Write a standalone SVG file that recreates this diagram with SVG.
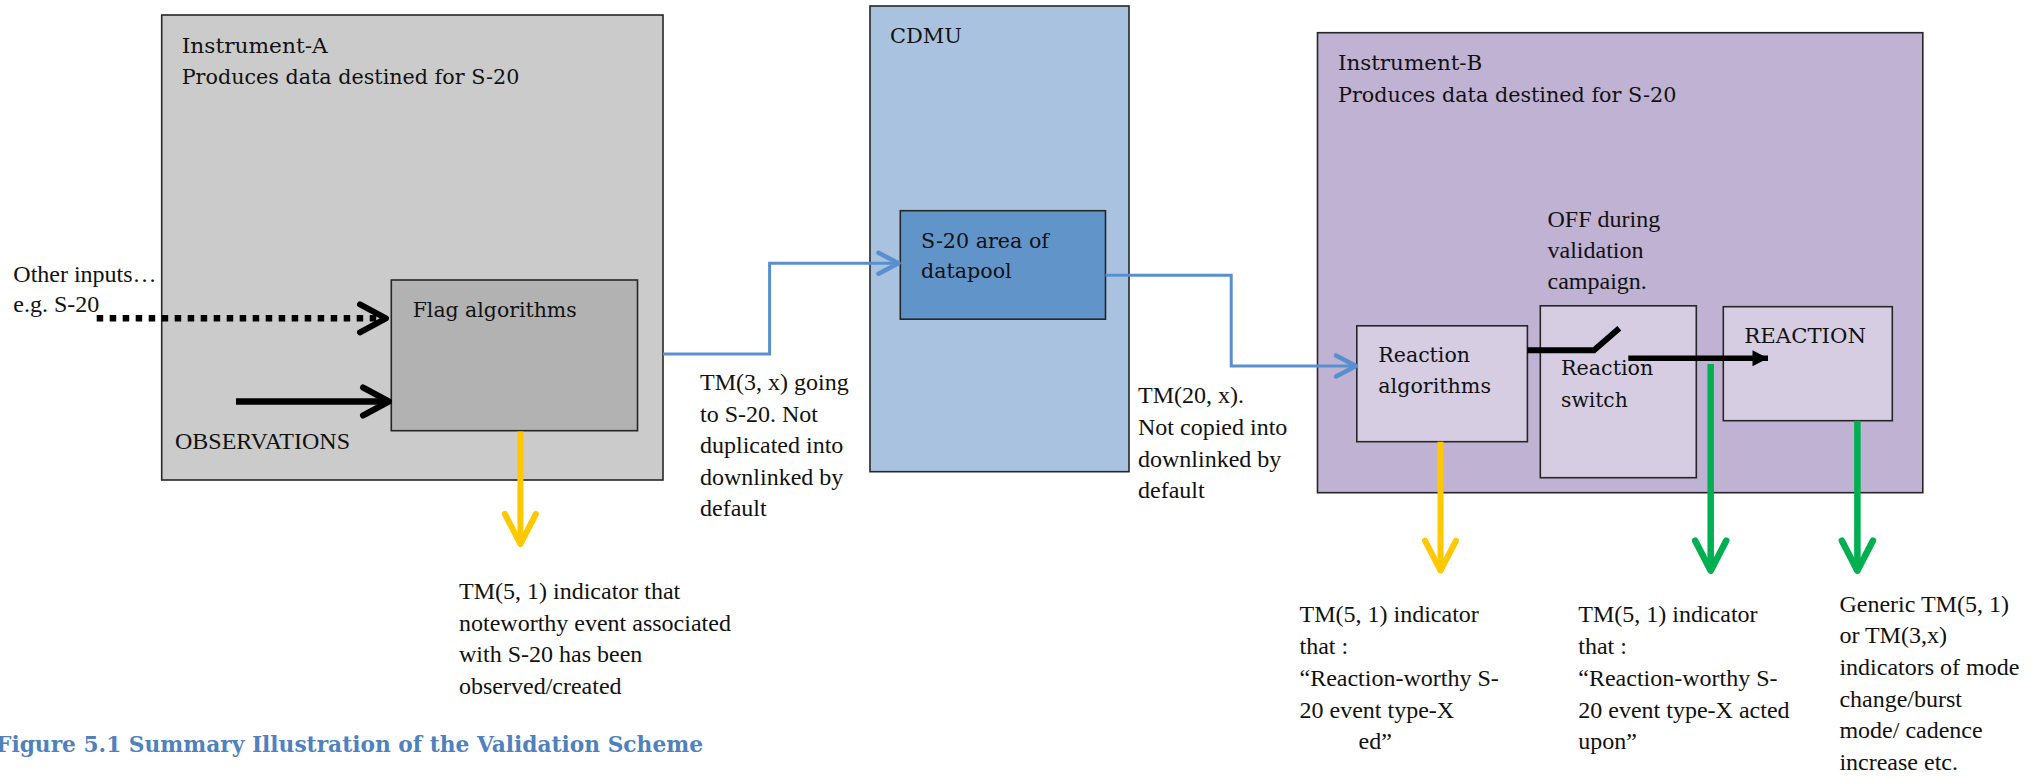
<svg xmlns="http://www.w3.org/2000/svg" width="2042" height="777" viewBox="0 0 2042 777">
<style>
.box{stroke:#262626;stroke-width:1.6}
.g{font-family:"DejaVu Serif","Liberation Serif",serif;font-size:21px;fill:#111}
.t{font-family:"Liberation Serif","Times New Roman",serif;font-size:24px;fill:#111}
.cap{font-family:"DejaVu Serif","Liberation Serif",serif;font-size:22px;font-weight:bold;fill:#4f81bd}
.blue{fill:none;stroke:#5a8fcf;stroke-width:3}
.blk{fill:none;stroke:#000;stroke-width:6.5}
.yel{fill:none;stroke:#ffc800;stroke-width:6}
.grn{fill:none;stroke:#00b050;stroke-width:6.5}
</style>
<defs>
<marker id="chevK" markerUnits="userSpaceOnUse" viewBox="-32 -20 36 40" markerWidth="36" markerHeight="40" refX="0" refY="0" orient="auto" overflow="visible">
<path d="M-26,-14 L0,0 L-26,14" fill="none" stroke="#000" stroke-width="6" stroke-linecap="round" stroke-linejoin="round"/>
</marker>
<marker id="chevB" markerUnits="userSpaceOnUse" viewBox="-26 -14 30 28" markerWidth="30" markerHeight="28" refX="0" refY="0" orient="auto" overflow="visible">
<path d="M-20,-10.5 L0,0 L-20,10.5" fill="none" stroke="#5a8fcf" stroke-width="4.5" stroke-linecap="round" stroke-linejoin="round"/>
</marker>
<marker id="chevY" markerUnits="userSpaceOnUse" viewBox="-36 -20 40 40" markerWidth="40" markerHeight="40" refX="0" refY="0" orient="auto" overflow="visible">
<path d="M-30,-15.5 L0,0 L-30,15.5" fill="none" stroke="#ffc800" stroke-width="6" stroke-linecap="round" stroke-linejoin="round"/>
</marker>
<marker id="chevG" markerUnits="userSpaceOnUse" viewBox="-36 -20 40 40" markerWidth="40" markerHeight="40" refX="0" refY="0" orient="auto" overflow="visible">
<path d="M-30,-15.5 L0,0 L-30,15.5" fill="none" stroke="#00b050" stroke-width="6.5" stroke-linecap="round" stroke-linejoin="round"/>
</marker>
<marker id="triK" markerUnits="userSpaceOnUse" viewBox="-18 -10 20 20" markerWidth="20" markerHeight="20" refX="0" refY="0" orient="auto" overflow="visible">
<path d="M-15.5,-8 L0,0 L-15.5,8 Z" fill="#000"/>
</marker>
</defs>

<g id="instrument-a">
<rect class="box" x="161.7" y="15" width="501.3" height="465" fill="#cbcbcb"/>
<text class="g" x="181.7" y="52.5" textLength="146" lengthAdjust="spacingAndGlyphs">Instrument-A</text>
<text class="g" x="181.7" y="84" textLength="337.7" lengthAdjust="spacingAndGlyphs">Produces data destined for S-20</text>
</g>
<g id="flag-algorithms">
<rect class="box" x="391.3" y="280" width="246.2" height="150.7" fill="#b2b2b2"/>
<text class="g" x="412.7" y="316.7" textLength="164" lengthAdjust="spacingAndGlyphs">Flag algorithms</text>
</g>
<g id="cdmu">
<rect class="box" x="870" y="6" width="259" height="465.7" fill="#a8c2e0"/>
<text class="g" x="890" y="42.7" textLength="72" lengthAdjust="spacingAndGlyphs">CDMU</text>
</g>
<g id="s20-area">
<rect class="box" x="900.3" y="210.7" width="205.2" height="108.5" fill="#6195c9"/>
<text class="g" x="921" y="248.3" textLength="128" lengthAdjust="spacingAndGlyphs">S-20 area of</text>
<text class="g" x="921" y="278.3" textLength="90.7" lengthAdjust="spacingAndGlyphs">datapool</text>
</g>
<g id="instrument-b">
<rect class="box" x="1317.5" y="32.7" width="605.3" height="460" fill="#c0b2d3"/>
<text class="g" x="1338" y="70" textLength="144.3" lengthAdjust="spacingAndGlyphs">Instrument-B</text>
<text class="g" x="1338" y="101.7" textLength="338.4" lengthAdjust="spacingAndGlyphs">Produces data destined for S-20</text>
<text class="t" x="1547.5" y="226.7">OFF during</text>
<text class="t" x="1547.5" y="257.7">validation</text>
<text class="t" x="1547.5" y="288.7">campaign.</text>
</g>
<g id="reaction-algorithms">
<rect class="box" x="1356.8" y="325.8" width="170.6" height="115.9" fill="#d6cde3"/>
<text class="g" x="1378.3" y="362.3" textLength="91.7" lengthAdjust="spacingAndGlyphs">Reaction</text>
<text class="g" x="1378.3" y="393.3" textLength="112.7" lengthAdjust="spacingAndGlyphs">algorithms</text>
</g>
<g id="reaction-switch">
<rect class="box" x="1540.3" y="305.8" width="156" height="171.9" fill="#d6cde3"/>
<text class="g" x="1561" y="375" textLength="92.3" lengthAdjust="spacingAndGlyphs">Reaction</text>
<text class="g" x="1561" y="406.7" textLength="66.7" lengthAdjust="spacingAndGlyphs">switch</text>
</g>
<g id="reaction">
<rect class="box" x="1723.3" y="306.7" width="169" height="114" fill="#d6cde3"/>
<text class="g" x="1744.3" y="342.7" textLength="121.7" lengthAdjust="spacingAndGlyphs">REACTION</text>
</g>

<g id="connectors">
<path class="blk" d="M96.7,318.3 H386" stroke-dasharray="6.5 6.5" marker-end="url(#chevK)"/>
<path class="blk" d="M236,401.5 H389" stroke-width="7" marker-end="url(#chevK)"/>
<path class="blue" d="M663,354 H769.6 V263.3 H898.5" marker-end="url(#chevB)"/>
<path class="blue" d="M1105.5,275.3 H1231.2 V366 H1356" marker-end="url(#chevB)"/>
<path class="yel" d="M520.4,431.5 V544" marker-end="url(#chevY)"/>
<path class="yel" d="M1440.5,441.7 V570.7" marker-end="url(#chevY)"/>
<path class="grn" d="M1710.7,364 V570.7" marker-end="url(#chevG)"/>
<path class="grn" d="M1857.4,420.7 V570.7" marker-end="url(#chevG)"/>
<path fill="none" stroke="#000" stroke-width="6" stroke-linejoin="miter" d="M1527.4,350.3 H1594 L1619.3,328.3"/>
<path fill="none" stroke="#000" stroke-width="5.5" d="M1628.3,358.3 H1768" marker-end="url(#triK)"/>
</g>

<g id="labels">
<text class="t" x="13.3" y="281.7">Other inputs…</text>
<text class="t" x="13.3" y="312">e.g. S-20</text>
<text class="t" x="175" y="448.5">OBSERVATIONS</text>
<text class="t" x="700">
<tspan x="700" y="390">TM(3, x) going</tspan>
<tspan x="700" y="421.5">to S-20. Not</tspan>
<tspan x="700" y="453">duplicated into</tspan>
<tspan x="700" y="484.5">downlinked by</tspan>
<tspan x="700" y="516">default</tspan>
</text>
<text class="t" x="1138">
<tspan x="1138" y="403.3">TM(20, x).</tspan>
<tspan x="1138" y="435">Not copied into</tspan>
<tspan x="1138" y="466.5">downlinked by</tspan>
<tspan x="1138" y="498">default</tspan>
</text>
<text class="t" x="459">
<tspan x="459" y="599">TM(5, 1) indicator that</tspan>
<tspan x="459" y="630.7">noteworthy event associated</tspan>
<tspan x="459" y="662.3">with S-20 has been</tspan>
<tspan x="459" y="694">observed/created</tspan>
</text>
<text class="t" x="1299.5">
<tspan x="1299.5" y="622.3">TM(5, 1) indicator</tspan>
<tspan x="1299.5" y="654.3">that :</tspan>
<tspan x="1299.5" y="685.7">“Reaction-worthy S-</tspan>
<tspan x="1299.5" y="717.7">20 event type-X</tspan>
<tspan x="1358.6" y="749">ed”</tspan>
</text>
<text class="t" x="1578.3">
<tspan x="1578.3" y="622.3">TM(5, 1) indicator</tspan>
<tspan x="1578.3" y="654.3">that :</tspan>
<tspan x="1578.3" y="685.7">“Reaction-worthy S-</tspan>
<tspan x="1578.3" y="717.7">20 event type-X acted</tspan>
<tspan x="1578.3" y="749">upon”</tspan>
</text>
<text class="t" x="1839.4">
<tspan x="1839.4" y="611.7">Generic TM(5, 1)</tspan>
<tspan x="1839.4" y="643.3">or TM(3,x)</tspan>
<tspan x="1839.4" y="675">indicators of mode</tspan>
<tspan x="1839.4" y="706.7">change/burst</tspan>
<tspan x="1839.4" y="738.3">mode/ cadence</tspan>
<tspan x="1839.4" y="770">increase etc.</tspan>
</text>
<text class="cap" x="-4" y="751.7" textLength="707" lengthAdjust="spacingAndGlyphs">Figure 5.1 Summary Illustration of the Validation Scheme</text>
</g>
</svg>
